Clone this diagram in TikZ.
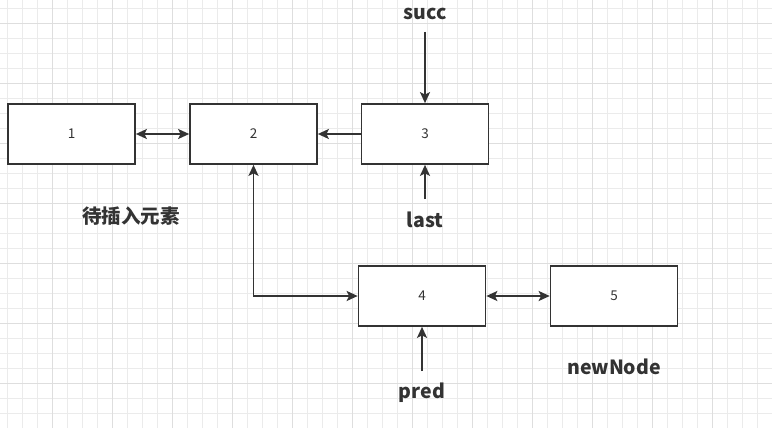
\documentclass[tikz,border=0pt]{standalone}
\usepackage{fontspec}
\setmainfont{Noto Sans CJK SC}
\usetikzlibrary{arrows.meta}
\definecolor{ink}{HTML}{333333}
\definecolor{gridminor}{HTML}{EBEBEB}
\definecolor{gridmajor}{HTML}{DEDEDE}
\tikzset{
  cell/.style={draw=ink,line width=1.7pt,fill=white,minimum width=127pt,minimum height=60pt,
    inner sep=0pt,text=ink,font=\fontsize{13.5}{13.5}\selectfont},
  tag/.style={text=ink,font=\fontsize{19.5}{19.5}\selectfont\bfseries,inner sep=0pt},
  link/.style={draw=ink,line width=1.7pt,-{Stealth[length=11pt,width=10pt,inset=2.5pt]}},
  dlink/.style={link,{Stealth[length=11pt,width=10pt,inset=2.5pt]}-{Stealth[length=11pt,width=10pt,inset=2.5pt]}}
}
\begin{document}
\begin{tikzpicture}[x=1pt,y=-1pt]
\useasboundingbox[fill=white] (0,0) rectangle (772,428);
% background grid
\foreach \gx in {7,22,...,772} \draw[gridminor,line width=0.9pt] (\gx,0) -- (\gx,428);
\foreach \gy in {8,23,...,428} \draw[gridminor,line width=0.9pt] (0,\gy) -- (772,\gy);
\foreach \gx in {52,112,...,772} \draw[gridmajor,line width=0.9pt] (\gx,0) -- (\gx,428);
\foreach \gy in {23,83,...,428} \draw[gridmajor,line width=0.9pt] (0,\gy) -- (772,\gy);
% list nodes
\node[cell] (n1) at (71.5,134) {1};
\node[cell] (n2) at (253.5,134) {2};
\node[cell] (n3) at (425,134) {3};
\node[cell] (n4) at (422,296) {4};
\node[cell] (n5) at (614,296) {5};
% labels
\node[tag] (succ) at (425,14) {succ};
\node[tag] (last) at (425,220) {last};
\node[tag] (pred) at (422,393) {pred};
\node[tag] (newnode) at (614,367) {newNode};
\node[tag] (insert) at (131,216) {待插入元素};
\coordinate (succtail) at (425,32);
\coordinate (lasttail) at (425,199);
\coordinate (predtail) at (422,371);
\coordinate (bend) at (n2.south |- n4.west);
% links
\draw[dlink] (n1) -- (n2);
\draw[link] (n3) -- (n2);
\draw[link] (succtail) -- (n3);
\draw[link] (lasttail) -- (n3);
\draw[dlink] (n2) -- (bend) -- (n4);
\draw[dlink] (n4) -- (n5);
\draw[link] (predtail) -- (n4);
\end{tikzpicture}
\end{document}
